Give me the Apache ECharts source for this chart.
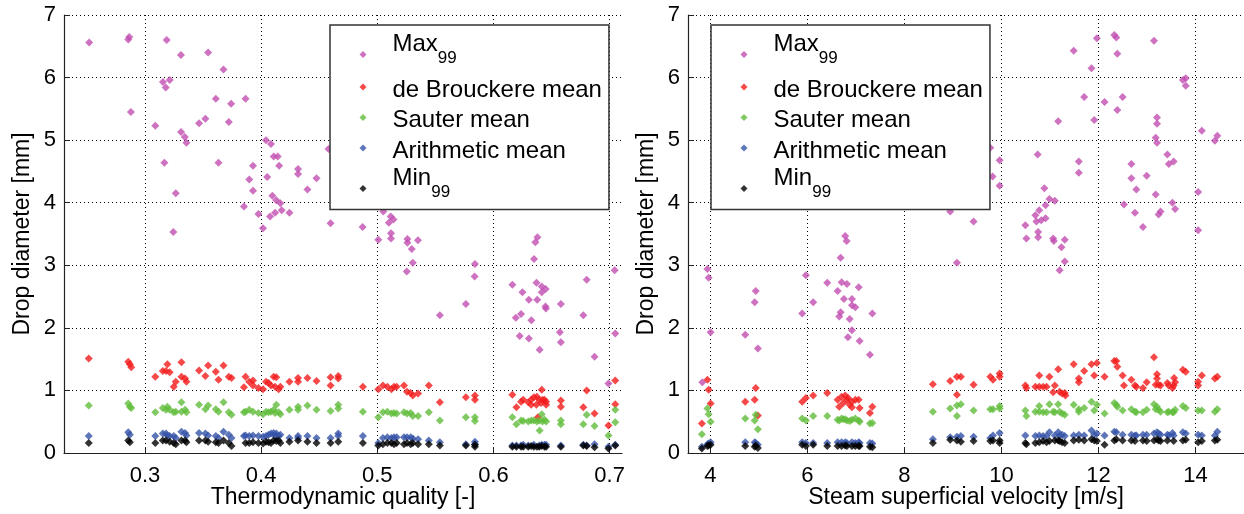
<!DOCTYPE html>
<html>
<head>
<meta charset="utf-8">
<script src="https://cdn.jsdelivr.net/npm/echarts@6/dist/echarts.min.js"></script>
<style>
  html, body { margin: 0; padding: 0; background: #fff; }
  #chart { width: 1244px; height: 514px; }
</style>
</head>
<body>
<div id="chart"></div>
<script>
// series names (legend) and axis titles
const seriesNames = ['Max99', 'de Brouckere mean', 'Sauter mean', 'Arithmetic mean', 'Min99'];
const xTicksQuality = [0.3, 0.4, 0.5, 0.6, 0.7];
const xTicksVelocity = [4, 6, 8, 10, 12, 14];

// left plot: drop diameter [mm] vs thermodynamic quality [-]
const qMax = [[0.252,6.56],[0.2856,6.61],[0.2865,6.65],[0.3187,6.60],[0.331,6.36],[0.3544,6.40],[0.3676,6.13],[0.3155,5.93],[0.3213,5.96],[0.3179,5.84],[0.361,5.66],[0.3742,5.58],[0.3866,5.66],[0.2879,5.45],[0.352,5.34],[0.3466,5.27],[0.3722,5.29],[0.3089,5.23],[0.3311,5.13],[0.3343,5.05],[0.3357,4.96],[0.4042,5.00],[0.4085,4.94],[0.4108,4.74],[0.4143,4.74],[0.4155,4.59],[0.393,4.59],[0.3167,4.64],[0.3633,4.64],[0.4318,4.54],[0.4318,4.46],[0.4477,4.39],[0.4053,4.41],[0.3898,4.37],[0.393,4.19],[0.4399,4.21],[0.3265,4.15],[0.4097,4.11],[0.4131,4.04],[0.4166,3.99],[0.3852,3.94],[0.4177,3.88],[0.412,3.84],[0.4244,3.84],[0.3977,3.82],[0.4077,3.78],[0.4598,3.67],[0.4016,3.59],[0.3244,3.53],[0.458,4.86],[0.5052,3.86],[0.4874,3.61],[0.5116,3.78],[0.5139,3.73],[0.51,3.68],[0.5118,3.51],[0.5118,3.43],[0.5009,3.41],[0.526,3.42],[0.526,3.36],[0.535,3.40],[0.6379,3.45],[0.6361,3.37],[0.5297,3.26],[0.5306,3.04],[0.5254,2.90],[0.5841,3.02],[0.5838,2.82],[0.5763,2.38],[0.5539,2.20],[0.635,3.10],[0.6163,2.69],[0.625,2.57],[0.6371,2.72],[0.6416,2.66],[0.645,2.62],[0.6416,2.57],[0.6305,2.45],[0.6377,2.45],[0.6448,2.34],[0.6452,2.31],[0.6581,2.38],[0.6238,2.22],[0.6193,2.16],[0.6327,2.12],[0.6774,2.20],[0.6803,2.77],[0.7044,2.92],[0.6572,1.93],[0.6581,1.77],[0.6226,1.87],[0.6305,1.83],[0.6398,1.65],[0.6871,1.54],[0.7049,1.91],[0.699,1.11]];
const qBrouckere = [[0.2516,1.51],[0.2856,1.46],[0.287,1.42],[0.2882,1.37],[0.3089,1.22],[0.3153,1.31],[0.3193,1.42],[0.3181,1.31],[0.3213,1.29],[0.3265,1.14],[0.3248,1.06],[0.3314,1.45],[0.3314,1.22],[0.3345,1.19],[0.3357,1.14],[0.3466,1.32],[0.3544,1.40],[0.352,1.23],[0.361,1.30],[0.3676,1.40],[0.3633,1.17],[0.3722,1.22],[0.3745,1.20],[0.3866,1.22],[0.3852,1.05],[0.3898,1.14],[0.393,1.16],[0.393,1.08],[0.3977,1.04],[0.4017,1.02],[0.4042,1.14],[0.4064,1.12],[0.4085,1.08],[0.4108,1.22],[0.4131,1.21],[0.412,1.06],[0.4166,1.06],[0.4151,1.02],[0.4244,1.14],[0.4318,1.20],[0.4318,1.14],[0.4399,1.20],[0.4477,1.15],[0.4598,1.21],[0.4664,1.23],[0.4664,1.19],[0.4598,1.08],[0.4876,1.06],[0.5009,1.02],[0.5049,1.08],[0.5087,1.06],[0.5122,1.02],[0.5144,1.06],[0.5167,1.06],[0.523,1.08],[0.5256,0.98],[0.5288,0.96],[0.5306,0.92],[0.5351,0.95],[0.5444,1.08],[0.5539,0.81],[0.5763,0.89],[0.5841,0.92],[0.5841,0.85],[0.6163,0.93],[0.6198,0.73],[0.6238,0.82],[0.6257,0.85],[0.630,0.81],[0.6325,0.85],[0.6348,0.89],[0.6374,0.90],[0.6394,0.85],[0.6416,1.01],[0.6422,0.85],[0.644,0.85],[0.6454,0.82],[0.6325,0.77],[0.637,0.77],[0.641,0.80],[0.6454,0.77],[0.6383,0.57],[0.6581,0.84],[0.6581,0.74],[0.6774,0.73],[0.6803,1.00],[0.6871,0.63],[0.699,0.44],[0.7049,1.16],[0.7049,0.78]];
const qSauter = [[0.2516,0.76],[0.2856,0.79],[0.287,0.74],[0.2882,0.72],[0.3089,0.65],[0.3153,0.72],[0.3181,0.69],[0.3193,0.74],[0.3213,0.69],[0.3248,0.65],[0.3265,0.66],[0.3314,0.81],[0.3314,0.66],[0.3345,0.69],[0.3357,0.65],[0.3466,0.77],[0.3544,0.76],[0.352,0.70],[0.361,0.70],[0.3633,0.66],[0.3676,0.81],[0.3722,0.65],[0.3745,0.61],[0.3866,0.66],[0.3852,0.65],[0.3898,0.69],[0.393,0.66],[0.3977,0.64],[0.4017,0.62],[0.4042,0.66],[0.4064,0.65],[0.4085,0.66],[0.4108,0.69],[0.4131,0.77],[0.412,0.64],[0.4166,0.62],[0.4151,0.65],[0.4244,0.69],[0.4318,0.74],[0.4318,0.69],[0.4399,0.76],[0.4477,0.69],[0.4598,0.67],[0.4664,0.77],[0.4664,0.71],[0.4876,0.66],[0.5009,0.57],[0.5049,0.65],[0.5087,0.66],[0.5122,0.63],[0.5144,0.64],[0.5167,0.63],[0.523,0.65],[0.5256,0.63],[0.5288,0.64],[0.5306,0.59],[0.5351,0.59],[0.5444,0.65],[0.5539,0.52],[0.5763,0.57],[0.5841,0.57],[0.5841,0.51],[0.6163,0.57],[0.6198,0.46],[0.6238,0.52],[0.6257,0.51],[0.630,0.505],[0.6325,0.52],[0.6348,0.52],[0.6374,0.505],[0.6394,0.52],[0.6416,0.62],[0.6422,0.505],[0.644,0.53],[0.6454,0.505],[0.6398,0.36],[0.6581,0.52],[0.6581,0.46],[0.6774,0.46],[0.6803,0.61],[0.6871,0.43],[0.699,0.28],[0.7049,0.69],[0.7049,0.49]];
const qArith = [[0.2516,0.27],[0.2856,0.33],[0.287,0.29],[0.3089,0.27],[0.3153,0.31],[0.3181,0.31],[0.3193,0.28],[0.3213,0.27],[0.3248,0.27],[0.3265,0.24],[0.3314,0.34],[0.3345,0.32],[0.3357,0.28],[0.3466,0.32],[0.352,0.31],[0.3544,0.28],[0.361,0.27],[0.3633,0.24],[0.3676,0.34],[0.3722,0.29],[0.3745,0.24],[0.3852,0.27],[0.3866,0.28],[0.3898,0.27],[0.393,0.28],[0.3977,0.27],[0.4017,0.26],[0.4042,0.27],[0.4064,0.29],[0.4085,0.31],[0.4108,0.32],[0.4131,0.31],[0.412,0.27],[0.4166,0.29],[0.4151,0.27],[0.4244,0.24],[0.4318,0.27],[0.4318,0.24],[0.4399,0.27],[0.4477,0.24],[0.4598,0.24],[0.4664,0.31],[0.4664,0.27],[0.4876,0.27],[0.5009,0.16],[0.5049,0.24],[0.5087,0.25],[0.5122,0.24],[0.5144,0.25],[0.5167,0.25],[0.523,0.25],[0.5256,0.25],[0.5288,0.25],[0.5306,0.23],[0.5351,0.22],[0.5444,0.20],[0.5539,0.17],[0.5763,0.14],[0.5841,0.18],[0.5841,0.14],[0.6163,0.12],[0.6198,0.12],[0.6238,0.12],[0.6257,0.13],[0.630,0.12],[0.6348,0.13],[0.6394,0.12],[0.6416,0.13],[0.644,0.13],[0.6454,0.13],[0.6581,0.12],[0.6774,0.13],[0.6803,0.12],[0.6871,0.14],[0.699,0.10],[0.7049,0.13]];
const qMin = [[0.2516,0.16],[0.2856,0.20],[0.287,0.17],[0.3089,0.16],[0.3153,0.20],[0.3181,0.20],[0.3213,0.18],[0.3248,0.16],[0.3265,0.14],[0.3314,0.20],[0.3345,0.20],[0.3357,0.17],[0.3466,0.20],[0.352,0.20],[0.3544,0.18],[0.361,0.17],[0.3633,0.16],[0.3676,0.20],[0.3722,0.16],[0.3745,0.11],[0.3866,0.16],[0.3898,0.16],[0.393,0.17],[0.3977,0.16],[0.4017,0.15],[0.4042,0.18],[0.4064,0.17],[0.4085,0.16],[0.4108,0.20],[0.4131,0.19],[0.4166,0.16],[0.4151,0.20],[0.4244,0.18],[0.4318,0.20],[0.4399,0.18],[0.4477,0.16],[0.4598,0.16],[0.4664,0.18],[0.4876,0.16],[0.5009,0.12],[0.5049,0.14],[0.5087,0.16],[0.5122,0.16],[0.5144,0.14],[0.5167,0.16],[0.523,0.14],[0.5256,0.16],[0.5288,0.14],[0.5306,0.16],[0.5351,0.14],[0.5444,0.14],[0.5539,0.12],[0.5763,0.12],[0.5841,0.13],[0.5841,0.10],[0.6163,0.10],[0.6198,0.10],[0.6238,0.10],[0.6257,0.10],[0.630,0.10],[0.6325,0.11],[0.6348,0.10],[0.6374,0.10],[0.6394,0.10],[0.6416,0.11],[0.644,0.10],[0.6454,0.10],[0.6581,0.10],[0.6774,0.12],[0.6803,0.11],[0.6871,0.09],[0.699,0.07],[0.7049,0.12]];

// right plot: drop diameter [mm] vs steam superficial velocity [m/s]
const vMax = [[3.94,2.94],[3.965,2.80],[4.006,1.93],[3.835,1.13],[4.936,2.59],[4.915,2.41],[4.72,1.89],[4.98,1.67],[6.78,3.47],[6.81,3.39],[6.686,3.12],[5.969,2.84],[6.12,2.41],[5.893,2.23],[6.41,2.72],[6.624,2.59],[6.707,2.73],[6.816,2.70],[7.058,2.65],[6.754,2.46],[6.919,2.46],[6.919,2.36],[6.988,2.33],[6.686,2.25],[6.657,2.18],[6.872,2.14],[7.339,2.23],[6.919,1.96],[6.837,1.85],[7.078,1.79],[7.29,1.57],[9.083,3.04],[8.944,3.86],[9.426,3.70],[9.771,4.88],[9.963,4.68],[9.818,4.42],[9.963,4.27],[10.494,3.64],[10.515,3.43],[10.70,3.80],[10.78,3.88],[10.72,3.70],[10.82,3.72],[10.91,3.75],[10.756,3.53],[10.756,3.45],[10.886,4.23],[10.748,4.77],[10.99,4.06],[11.10,4.03],[10.91,3.96],[11.066,3.43],[11.08,3.39],[11.306,3.41],[11.237,3.29],[11.306,3.06],[11.2,2.92],[11.17,5.30],[11.49,6.43],[11.595,4.66],[11.595,4.48],[11.706,5.69],[11.857,6.15],[11.913,5.32],[11.967,6.63],[12.126,5.61],[12.327,6.68],[12.368,6.64],[12.389,6.38],[12.389,5.48],[12.498,5.69],[12.678,4.62],[12.678,4.39],[12.78,4.21],[12.994,4.43],[12.525,3.97],[12.752,3.84],[12.917,3.61],[13.145,6.59],[13.207,5.36],[13.207,5.26],[13.18,5.04],[13.207,4.96],[13.18,4.13],[13.42,4.77],[13.45,4.62],[13.55,4.66],[13.24,3.81],[13.28,3.86],[13.525,4.00],[13.58,3.90],[13.74,5.96],[13.80,5.99],[13.80,5.87],[14.13,5.15],[14.054,4.17],[14.054,3.56],[14.40,4.99],[14.45,5.07]];
const vBrouckere = [[3.94,1.17],[3.965,1.01],[4.006,0.79],[3.826,0.47],[4.72,0.82],[4.915,0.85],[4.936,1.04],[4.98,0.60],[5.893,0.82],[5.969,0.88],[6.12,0.92],[6.41,0.96],[6.624,0.85],[6.707,0.90],[6.78,0.92],[6.816,0.85],[6.919,0.82],[6.988,0.85],[6.657,0.74],[6.872,0.77],[6.919,0.73],[7.058,0.85],[7.078,0.72],[6.74,0.80],[6.84,0.88],[7.29,0.64],[7.339,0.74],[8.587,1.10],[8.944,1.15],[9.083,0.93],[9.083,1.22],[9.165,1.22],[9.426,1.09],[9.771,1.22],[9.826,1.17],[9.963,1.22],[9.963,1.27],[10.494,1.08],[10.515,1.04],[10.70,1.06],[10.78,1.06],[10.86,1.06],[10.93,1.06],[10.78,1.24],[10.99,1.22],[11.10,1.08],[11.17,1.34],[11.066,0.97],[11.20,0.98],[11.25,0.95],[11.306,0.96],[11.32,0.92],[11.49,1.42],[11.595,1.19],[11.595,1.13],[11.706,1.31],[11.857,1.42],[11.913,1.24],[11.967,1.44],[12.126,1.22],[12.327,1.47],[12.368,1.47],[12.389,1.38],[12.498,1.24],[12.525,1.08],[12.678,1.17],[12.752,1.08],[12.78,1.06],[12.917,1.04],[12.994,1.13],[13.145,1.53],[13.207,1.26],[13.207,1.19],[13.18,1.09],[13.24,1.09],[13.28,1.08],[13.42,1.12],[13.45,1.08],[13.55,1.08],[13.58,1.13],[13.525,1.04],[13.56,1.20],[13.74,1.33],[13.80,1.30],[14.054,1.14],[14.054,1.08],[14.13,1.24],[14.40,1.19],[14.45,1.22]];
const vSauter = [[3.94,0.71],[3.965,0.62],[4.006,0.50],[3.826,0.30],[4.72,0.55],[4.915,0.52],[4.936,0.61],[4.98,0.38],[5.893,0.55],[5.969,0.52],[6.12,0.59],[6.41,0.59],[6.624,0.53],[6.707,0.55],[6.78,0.54],[6.816,0.52],[6.919,0.53],[6.988,0.55],[6.657,0.52],[6.872,0.51],[7.058,0.52],[7.078,0.50],[6.74,0.54],[7.29,0.47],[7.339,0.48],[8.587,0.66],[8.944,0.71],[9.083,0.59],[9.083,0.76],[9.165,0.78],[9.426,0.68],[9.771,0.70],[9.826,0.70],[9.963,0.75],[9.963,0.71],[10.494,0.68],[10.515,0.59],[10.70,0.66],[10.78,0.66],[10.86,0.65],[10.93,0.65],[10.78,0.75],[10.99,0.78],[11.066,0.66],[11.10,0.65],[11.17,0.78],[11.20,0.66],[11.25,0.63],[11.306,0.61],[11.49,0.77],[11.595,0.70],[11.595,0.66],[11.706,0.72],[11.857,0.82],[11.913,0.68],[11.967,0.77],[12.126,0.63],[12.327,0.80],[12.368,0.77],[12.389,0.74],[12.498,0.68],[12.678,0.70],[12.752,0.66],[12.78,0.65],[12.917,0.65],[12.994,0.69],[13.145,0.78],[13.207,0.74],[13.24,0.69],[13.28,0.66],[13.18,0.70],[13.42,0.65],[13.45,0.66],[13.55,0.65],[13.58,0.69],[13.525,0.65],[13.74,0.75],[13.80,0.72],[14.054,0.68],[14.13,0.68],[14.40,0.66],[14.45,0.70]];
const vArith = [[3.94,0.14],[4.006,0.17],[3.965,0.15],[3.826,0.10],[4.72,0.17],[4.915,0.17],[4.936,0.16],[4.98,0.13],[5.893,0.17],[5.969,0.16],[6.12,0.16],[6.41,0.16],[6.624,0.17],[6.707,0.17],[6.78,0.17],[6.816,0.16],[6.919,0.17],[6.988,0.16],[7.058,0.17],[7.078,0.16],[7.29,0.16],[7.339,0.15],[8.587,0.22],[8.944,0.25],[9.083,0.26],[9.165,0.27],[9.426,0.26],[9.771,0.24],[9.826,0.28],[9.963,0.32],[10.494,0.28],[10.70,0.27],[10.78,0.28],[10.86,0.27],[10.93,0.27],[10.99,0.33],[11.10,0.28],[11.17,0.33],[11.20,0.28],[11.25,0.29],[11.306,0.27],[11.49,0.28],[11.595,0.29],[11.706,0.28],[11.857,0.36],[11.913,0.29],[11.967,0.31],[12.126,0.28],[12.327,0.34],[12.368,0.33],[12.498,0.29],[12.678,0.29],[12.752,0.28],[12.78,0.28],[12.917,0.29],[12.994,0.29],[13.145,0.31],[13.207,0.33],[13.24,0.31],[13.28,0.29],[13.42,0.29],[13.45,0.28],[13.525,0.32],[13.55,0.28],[13.74,0.33],[13.80,0.31],[14.054,0.29],[14.13,0.28],[14.40,0.28],[14.45,0.34]];
const vMin = [[3.826,0.07],[3.94,0.11],[4.006,0.13],[3.965,0.12],[4.72,0.11],[4.915,0.10],[4.936,0.12],[4.98,0.08],[5.893,0.13],[5.969,0.11],[6.12,0.13],[6.41,0.11],[6.624,0.11],[6.707,0.11],[6.78,0.12],[6.816,0.11],[6.919,0.11],[6.988,0.11],[7.058,0.11],[7.078,0.11],[7.29,0.10],[7.339,0.09],[8.587,0.16],[8.944,0.21],[9.083,0.20],[9.165,0.18],[9.426,0.19],[9.771,0.19],[9.826,0.20],[9.963,0.20],[9.963,0.16],[10.494,0.16],[10.515,0.14],[10.70,0.16],[10.78,0.17],[10.86,0.19],[10.93,0.17],[10.99,0.19],[11.10,0.20],[11.17,0.20],[11.20,0.19],[11.25,0.17],[11.306,0.16],[11.49,0.20],[11.595,0.21],[11.706,0.20],[11.857,0.22],[11.913,0.20],[11.967,0.19],[12.126,0.13],[12.327,0.20],[12.368,0.22],[12.498,0.20],[12.678,0.20],[12.752,0.19],[12.917,0.20],[12.994,0.19],[13.145,0.20],[13.207,0.22],[13.24,0.20],[13.28,0.19],[13.42,0.20],[13.55,0.19],[13.74,0.20],[13.80,0.21],[14.054,0.17],[14.13,0.19],[14.40,0.20],[14.45,0.21]];

const colors = ['#c04db0', '#f21c1c', '#62bd3c', '#3552a8', '#000000'];
const FONT = '"Liberation Sans", Arial, Helvetica, sans-serif';

let chart = echarts.init(document.getElementById('chart'));

function xAxisFor(gridIndex, min, max, ticks, title) {
    return {
        type: 'value', gridIndex: gridIndex, min: min, max: max,
        name: title, nameLocation: 'middle', nameGap: 33, nameMoveOverlap: false,
        nameTextStyle: { color: '#000', fontSize: 23, fontFamily: FONT },
        axisLine: { onZero: false, lineStyle: { color: '#222', width: 1.2 } },
        axisTick: { inside: true, length: 6, customValues: ticks, lineStyle: { color: '#222' } },
        axisLabel: { customValues: ticks, color: '#000', fontSize: 22, fontFamily: FONT, margin: 12 },
        splitLine: { show: true, lineStyle: { color: '#000', type: [1, 3], width: 1 } }
    };
}

function yAxisFor(gridIndex) {
    return {
        type: 'value', gridIndex: gridIndex, min: 0, max: 7, interval: 1,
        name: 'Drop diameter [mm]', nameLocation: 'middle', nameGap: 30, nameRotate: 90,
        nameMoveOverlap: false,
        nameTextStyle: { color: '#000', fontSize: 23, fontFamily: FONT },
        axisLine: { show: true, onZero: false, lineStyle: { color: '#222', width: 1.2 } },
        axisTick: { show: true, inside: true, length: 6, lineStyle: { color: '#222' } },
        axisLabel: { color: '#000', fontSize: 22, fontFamily: FONT, margin: 8 },
        splitLine: { show: true, lineStyle: { color: '#000', type: [1, 3], width: 1 } }
    };
}

// subscript labels: main text shifted up, "99" shifted down, all by padding
function legendFor(left) {
    return {
        left: left, top: 25, orient: 'vertical',
        data: seriesNames, selectedMode: false,
        backgroundColor: '#fff', borderColor: '#333', borderWidth: 1.5, borderRadius: 0,
        padding: [7, 7, 4, 29.5], itemGap: 3, itemWidth: 7, itemHeight: 7,
        icon: 'diamond', z: 10,
        formatter: function (name) {
            if (name === 'Max99') return '{m|Max}{s|99}';
            if (name === 'Min99') return '{m|Min}{s|99}';
            return '{n|' + name + '}';
        },
        textStyle: {
            color: '#000', fontFamily: FONT,
            rich: {
                n: { fontSize: 24, height: 19, lineHeight: 26, padding: [6, 0, 0, 21], fontFamily: FONT, color: '#000' },
                m: { fontSize: 24, height: 13, lineHeight: 34, padding: [0, 0, 21, 21], fontFamily: FONT, color: '#000' },
                s: { fontSize: 17, height: 26, lineHeight: 34, padding: [8, 0, 0, 0], fontFamily: FONT, color: '#000' }
            }
        }
    };
}

const leftData = [qMax, qBrouckere, qSauter, qArith, qMin];
const rightData = [vMax, vBrouckere, vSauter, vArith, vMin];
let series = [];
[leftData, rightData].forEach(function (set, gi) {
    set.forEach(function (d, i) {
        series.push({
            type: 'scatter', name: seriesNames[i], data: d,
            xAxisIndex: gi, yAxisIndex: gi,
            symbol: 'diamond', symbolSize: 8,
            itemStyle: { color: colors[i] },
            z: 2 + i
        });
    });
});

chart.setOption({
    animation: false,
    backgroundColor: '#fff',
    color: colors,
    grid: [
        { left: 64, top: 15, width: 558, height: 438, outerBoundsMode: 'none' },
        { left: 688, top: 15, right: 0, height: 438, outerBoundsMode: 'none' }
    ],
    legend: [legendFor(330), legendFor(711)],
    xAxis: [
        xAxisFor(0, 0.2303, 0.7107, xTicksQuality, 'Thermodynamic quality [-]'),
        xAxisFor(1, 3.54, 15.0, xTicksVelocity, 'Steam superficial velocity [m/s]')
    ],
    yAxis: [yAxisFor(0), yAxisFor(1)],
    series: series
});
</script>
</body>
</html>
